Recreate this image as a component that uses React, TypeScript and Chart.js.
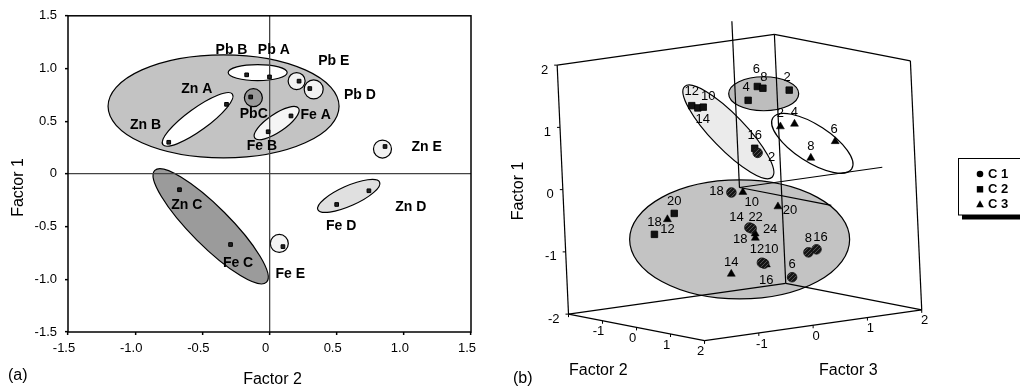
import React, { useEffect, useRef } from "react";
import { Chart, registerables } from "chart.js";

Chart.register(...registerables);

const FONT = "'Liberation Sans', Arial, Helvetica, sans-serif";

// ---------------- Panel (a) data ----------------
const elementNames = ["Pb A", "Pb B", "PbC", "Pb D", "Pb E", "Zn A", "Zn B", "Zn C", "Zn D", "Zn E", "Fe A", "Fe B", "Fe C", "Fe D", "Fe E"];
const factor2Scores = [0.0, -0.17, -0.14, 0.3, 0.22, -0.32, -0.75, -0.67, 0.74, 0.86, 0.16, -0.01, -0.29, 0.5, 0.1];
const factor1Scores = [0.92, 0.94, 0.73, 0.81, 0.88, 0.66, 0.3, -0.15, -0.16, 0.26, 0.55, 0.4, -0.67, -0.29, -0.69];
const labelFactor2 = [0.032, -0.283, -0.117, 0.673, 0.479, -0.541, -0.923, -0.616, 1.051, 1.17, 0.343, -0.057, -0.234, 0.534, 0.154];
const labelFactor1 = [1.176, 1.176, 0.571, 0.75, 1.072, 0.803, 0.467, -0.296, -0.315, 0.252, 0.561, 0.264, -0.848, -0.498, -0.949];

const axisTickValues = [-1.5, -1, -0.5, 0, 0.5, 1, 1.5];
const axisTickLabels = ["-1.5", "-1.0", "-0.5", "0", "0.5", "1.0", "1.5"];

// groups (ellipses) of panel (a): centres in factor units
const groupCentreF2 = [-0.342, -0.088, 0.202, 0.329, -0.12, -0.535, 0.053, 0.841, -0.438, 0.59, 0.073];
const groupCentreF1 = [0.641, 0.961, 0.881, 0.802, 0.723, 0.517, 0.482, 0.236, -0.497, -0.209, -0.66];
// shapes (px) and fills
const groupSemiMajor = [115.5, 29.5, 8.5, 9.5, 9, 43, 26.5, 9, 79, 33.8, 9];
const groupSemiMinor = [51.5, 8, 8.5, 9.5, 9, 11, 9, 9, 19.5, 10, 9];
const groupAngle = [0, 0, 0, 0, 0, -36, -34, 0, 45, -24, 0];
const groupFill = ["#c3c3c3", "#ffffff", "#f2f2f2", "#f2f2f2", "#999999", "#ffffff", "#f5f5f5", "#f2f2f2", "#9b9b9b", "#e0e0e0", "#f4f4f4"];

// ---------------- Panel (b) data ----------------
const c1Ids = ["2", "18", "14", "22", "12", "16", "8", "16", "6"];
const c1F2 = [-0.5, 0.5, 0.5, 0.5, 0.5, 0.5, 0.5, 0.5, 0.5];
const c1F3 = [0.67, -0.46, -0.16, -0.12, 0.04, 0.08, 0.9, 1.05, 0.58];
const c1F1 = [0.42, 0.03, -0.57, -0.59, -1.16, -1.18, -1.1, -1.07, -1.46];

const c2Ids = ["6", "8", "2", "4", "12", "14", "10", "16", "20", "12"];
const c2F2 = [-0.5, -0.5, -0.5, -0.5, -1.5, -1.5, -1.5, -0.5, -1.5, -1.5];
const c2F3 = [0.72, 0.82, 1.3, 0.54, 0.12, 0.23, 0.33, 0.62, -0.29, -0.67];
const c2F1 = [1.48, 1.44, 1.35, 1.28, 1.14, 1.09, 1.09, 0.5, -0.54, -0.83];

const c3Ids = ["2", "4", "6", "8", "10", "20", "24", "18", "10", "14", "18"];
const c3F2 = [0, 0, 0, 0, 0.5, 0.5, 0.5, 0.5, 0.5, 0.5, -1.5];
const c3F3 = [0.8, 1.06, 1.79, 1.33, -0.25, 0.38, -0.06, -0.06, 0.12, -0.53, -0.42];
const c3F1 = [0.88, 0.89, 0.52, 0.31, 0.01, -0.3, -0.68, -0.75, -1.2, -1.27, -0.62];

const cubeTicks = [-2, -1, 0, 1, 2];
const cubeTickLabels = ["-2", "-1", "0", "1", "2"];

// label offsets (px) of the sample numbers
const c1LabelOffsets = [[14, 5], [-15, -1], [-13, -10], [4, -11], [-5, -13], [2, 17], [0, -14], [4, -12], [0, -13]];
const c2LabelOffsets = [[-1, -17], [1, -11], [-2, -13], [-2, -13], [0, -14], [5, 12], [5, -11], [0, -13], [0, -12], [13, -5]];
const c3LabelOffsets = [[0, -13], [0, -12], [-1, -12], [0, -12], [9, 10], [12, 4], [15, -4], [-15, 1], [5, -15], [0, -12], [-13, 3]];

// cluster ellipses of panel (b): centres in factor units
const clusterF2 = [0, -1, 0, -0.5];
const clusterF3 = [-0.04, 0.46, 1.37, 0.83];
const clusterF1 = [-0.83, 0.73, 0.54, 1.35];
const clusterSemiMajor = [110, 63, 47, 35];
const clusterSemiMinor = [59.5, 17, 18.5, 17];
const clusterAngle = [0, 46, 33, 0];
const clusterFill = ["#c3c3c3", "#ebebeb", "#ffffff", "#bdbdbd"];

// oblique projection of the cube (layout)
const PO = { x: 739, y: 187.3 };
const PU = { x: 34.75, y: 6.83 }; // factor 2
const PV = { x: 55.5, y: -7.93 }; // factor 3
const PW = { x: -2.9, y: -64.1 }; // factor 1
function project(f2: number, f3: number, f1: number) {
  return {
    x: PO.x + f2 * PU.x + f3 * PV.x + f1 * PW.x,
    y: PO.y + f2 * PU.y + f3 * PV.y + f1 * PW.y,
  };
}

function drawEllipse(ctx: CanvasRenderingContext2D, x: number, y: number, a: number, b: number, ang: number, fill: string) {
  ctx.beginPath();
  ctx.ellipse(x, y, a, b, (ang * Math.PI) / 180, 0, Math.PI * 2);
  ctx.fillStyle = fill;
  ctx.fill();
  ctx.lineWidth = 1.2;
  ctx.strokeStyle = "#000";
  ctx.stroke();
}

function tickLabel(v: number, values: number[], labels: string[]) {
  const i = values.findIndex((t) => Math.abs(t - v) < 1e-9);
  return i >= 0 ? labels[i] : "";
}

// ---------------- Panel (a) ----------------
function PanelA() {
  const ref = useRef<HTMLCanvasElement>(null);
  useEffect(() => {
    const plugin = {
      id: "panelA",
      beforeDraw(chart: any) {
        const { ctx, scales } = chart;
        ctx.save();
        for (let i = 0; i < groupCentreF2.length; i++) {
          drawEllipse(
            ctx,
            scales.x.getPixelForValue(groupCentreF2[i]),
            scales.y.getPixelForValue(groupCentreF1[i]),
            groupSemiMajor[i],
            groupSemiMinor[i],
            groupAngle[i],
            groupFill[i]
          );
        }
        ctx.restore();
      },
      afterDraw(chart: any) {
        const { ctx, scales, chartArea } = chart;
        ctx.save();
        ctx.strokeStyle = "#000";
        ctx.lineWidth = 1.5;
        ctx.strokeRect(chartArea.left, chartArea.top, chartArea.right - chartArea.left, chartArea.bottom - chartArea.top);
        ctx.fillStyle = "#000";
        ctx.font = `bold 14px ${FONT}`;
        ctx.textAlign = "center";
        ctx.textBaseline = "middle";
        for (let i = 0; i < elementNames.length; i++) {
          ctx.fillText(elementNames[i], scales.x.getPixelForValue(labelFactor2[i]), scales.y.getPixelForValue(labelFactor1[i]));
        }
        ctx.font = `16px ${FONT}`;
        ctx.fillText("Factor 2", 272.5, 380);
        ctx.textAlign = "left";
        ctx.fillText("(a)", 8, 375.5);
        ctx.translate(18.5, 187.5);
        ctx.rotate(-Math.PI / 2);
        ctx.textAlign = "center";
        ctx.fillText("Factor 1", 0, 0);
        ctx.restore();
      },
    };

    const gridColor = (c: any) => (c.tick && Math.abs(c.tick.value) < 1e-9 ? "#444" : "rgba(0,0,0,0)");
    const scaleBase = {
      type: "linear" as const,
      min: -1.5,
      max: 1.5,
      afterBuildTicks: (s: any) => {
        s.ticks = axisTickValues.map((v) => ({ value: v }));
      },
      grid: { color: gridColor, lineWidth: 1.3, tickColor: "#000", tickWidth: 1.5, tickLength: 3, drawTicks: true },
      border: { display: false },
    };

    const chart = new Chart(ref.current!, {
      type: "scatter",
      data: {
        datasets: [
          {
            data: factor2Scores.map((x, i) => ({ x, y: factor1Scores[i] })),
            pointStyle: "rect",
            pointRadius: 2.6,
            backgroundColor: "#222",
            borderColor: "#000",
            borderWidth: 1,
          },
        ],
      },
      options: {
        animation: false,
        responsive: false,
        events: [],
        layout: { padding: { left: 0, right: 29, top: 15, bottom: 0 } },
        plugins: { legend: { display: false }, tooltip: { enabled: false } },
        scales: {
          x: {
            ...scaleBase,
            afterFit: (s: any) => {
              s.height = 56;
            },
            ticks: {
              font: { family: FONT, size: 13 },
              color: "#000",
              padding: 6,
              labelOffset: -4,
              maxRotation: 0,
              autoSkip: false,
              callback: (v: any) => tickLabel(Number(v), axisTickValues, axisTickLabels),
            },
          },
          y: {
            ...scaleBase,
            afterFit: (s: any) => {
              s.width = 68;
            },
            ticks: {
              font: { family: FONT, size: 13 },
              color: "#000",
              padding: 8,
              autoSkip: false,
              callback: (v: any) => tickLabel(Number(v), axisTickValues, axisTickLabels),
            },
          },
        },
      } as any,
      plugins: [plugin],
    });
    return () => chart.destroy();
  }, []);
  return <canvas ref={ref} width={500} height={388} style={{ position: "absolute", left: 0, top: 0, width: 500, height: 388 }} />;
}

// ---------------- Panel (b) ----------------
function makeHatch(): CanvasPattern | string {
  const c = document.createElement("canvas");
  c.width = 4;
  c.height = 4;
  const g = c.getContext("2d");
  if (!g) return "#222";
  g.fillStyle = "#151515";
  g.fillRect(0, 0, 4, 4);
  g.strokeStyle = "#505050";
  g.lineWidth = 1;
  g.beginPath();
  g.moveTo(0, 4);
  g.lineTo(4, 0);
  g.stroke();
  const p = g.createPattern(c, "repeat");
  return p || "#222";
}

function PanelB() {
  const ref = useRef<HTMLCanvasElement>(null);
  useEffect(() => {
    const OFFX = 500;
    const plugin = {
      id: "panelB",
      beforeDatasetsDraw(chart: any) {
        const { ctx, scales } = chart;
        const P = (f2: number, f3: number, f1: number) => {
          const p = project(f2, f3, f1);
          return [scales.x.getPixelForValue(p.x), scales.y.getPixelForValue(p.y)];
        };
        ctx.save();
        for (let i = 0; i < clusterF2.length; i++) {
          const [x, y] = P(clusterF2[i], clusterF3[i], clusterF1[i]);
          drawEllipse(ctx, x, y, clusterSemiMajor[i], clusterSemiMinor[i], clusterAngle[i], clusterFill[i]);
        }
        const seg = (a: number[], b: number[]) => {
          const p = P(a[0], a[1], a[2]);
          const q = P(b[0], b[1], b[2]);
          ctx.beginPath();
          ctx.moveTo(p[0], p[1]);
          ctx.lineTo(q[0], q[1]);
          ctx.stroke();
        };
        ctx.strokeStyle = "#000";
        ctx.lineWidth = 1.2;
        // cube walls
        seg([-2, -2, -2], [-2, -2, 2]);
        seg([-2, -2, 2], [-2, 2, 2]);
        seg([-2, 2, -2], [-2, 2, 2]);
        seg([-2, 2, 2], [2, 2, 2]);
        seg([2, 2, -2], [2, 2, 2]);
        seg([-2, -2, -2], [2, -2, -2]);
        seg([2, -2, -2], [2, 2, -2]);
        seg([-2, -2, -2], [-2, 2, -2]);
        seg([-2, 2, -2], [2, 2, -2]);
        // axes through origin
        seg([0, 0, 0], [0, 0, 2.67]);
        seg([0, 0, 0], [2.7, 0, 0]);
        seg([0, 0, 0], [0, 2.63, 0]);
        // ticks and labels
        ctx.fillStyle = "#000";
        ctx.font = `13px ${FONT}`;
        ctx.textBaseline = "middle";
        ctx.lineWidth = 1;
        for (let i = 0; i < cubeTicks.length; i++) {
          const t = cubeTicks[i];
          const lab = cubeTickLabels[i];
          let [x, y] = P(-2, -2, t);
          ctx.beginPath();
          ctx.moveTo(x, y);
          ctx.lineTo(x - 3, y);
          ctx.stroke();
          ctx.textAlign = "right";
          ctx.fillText(lab, x - 9, y + 5);
          [x, y] = P(t, -2, -2);
          ctx.beginPath();
          ctx.moveTo(x, y);
          ctx.lineTo(x, y + 3);
          ctx.stroke();
          ctx.textAlign = "center";
          if (t > -2) ctx.fillText(lab, x - 4, y + 11);
          [x, y] = P(2, t, -2);
          ctx.beginPath();
          ctx.moveTo(x, y);
          ctx.lineTo(x, y + 3);
          ctx.stroke();
          if (t > -2) ctx.fillText(lab, x + 3, y + 11);
        }
        ctx.restore();
      },
      afterDatasetsDraw(chart: any) {
        const { ctx, scales } = chart;
        ctx.save();
        ctx.fillStyle = "#000";
        ctx.font = `13px ${FONT}`;
        ctx.textAlign = "center";
        ctx.textBaseline = "middle";
        const groups: [string[], number[], number[], number[], number[][]][] = [
          [c1Ids, c1F2, c1F3, c1F1, c1LabelOffsets],
          [c2Ids, c2F2, c2F3, c2F1, c2LabelOffsets],
          [c3Ids, c3F2, c3F3, c3F1, c3LabelOffsets],
        ];
        for (const [ids, f2, f3, f1, off] of groups) {
          for (let i = 0; i < ids.length; i++) {
            const p = project(f2[i], f3[i], f1[i]);
            ctx.fillText(ids[i], scales.x.getPixelForValue(p.x) + off[i][0], scales.y.getPixelForValue(p.y) + off[i][1]);
          }
        }
        ctx.font = `16px ${FONT}`;
        ctx.fillText("Factor 2", 598.3 - OFFX, 370.7);
        ctx.fillText("Factor 3", 848.3 - OFFX, 370.7);
        ctx.textAlign = "left";
        ctx.fillText("(b)", 513 - OFFX, 379);
        ctx.save();
        ctx.translate(519 - OFFX, 191);
        ctx.rotate(-Math.PI / 2);
        ctx.textAlign = "center";
        ctx.fillText("Factor 1", 0, 0);
        ctx.restore();
        // legend box
        const lx = 958.5 - OFFX;
        ctx.fillStyle = "#000";
        ctx.fillRect(962 - OFFX, 215, 70, 4.5);
        ctx.fillStyle = "#fff";
        ctx.fillRect(lx, 158.5, 70, 56.5);
        ctx.strokeStyle = "#000";
        ctx.lineWidth = 1;
        ctx.strokeRect(lx, 158.5, 70, 56.5);
        const names = chart.data.datasets.map((d: any) => d.label);
        const ys = [174, 189.3, 204.3];
        const sx = 980 - OFFX;
        ctx.fillStyle = "#000";
        ctx.beginPath();
        ctx.arc(sx, ys[0], 3.3, 0, Math.PI * 2);
        ctx.fill();
        ctx.fillRect(sx - 3.2, ys[1] - 3.2, 6.4, 6.4);
        ctx.beginPath();
        ctx.moveTo(sx, ys[2] - 4);
        ctx.lineTo(sx + 3.8, ys[2] + 3);
        ctx.lineTo(sx - 3.8, ys[2] + 3);
        ctx.closePath();
        ctx.fill();
        ctx.font = `bold 13px ${FONT}`;
        ctx.textAlign = "left";
        for (let i = 0; i < names.length; i++) ctx.fillText(names[i], 988 - OFFX, ys[i] + 0.5);
        ctx.restore();
      },
    };

    const pts = (f2: number[], f3: number[], f1: number[]) => f2.map((v, i) => project(v, f3[i], f1[i]));

    const chart = new Chart(ref.current!, {
      type: "scatter",
      data: {
        datasets: [
          { label: "C 1", data: pts(c1F2, c1F3, c1F1), pointStyle: "circle", pointRadius: 4.8, backgroundColor: makeHatch() as any, borderColor: "#111", borderWidth: 0.8, clip: false },
          { label: "C 2", data: pts(c2F2, c2F3, c2F1), pointStyle: "rect", pointRadius: 4.6, backgroundColor: "#111", borderColor: "#000", borderWidth: 0.8, clip: false },
          { label: "C 3", data: pts(c3F2, c3F3, c3F1), pointStyle: "triangle", pointRadius: 4.6, backgroundColor: "#000", borderColor: "#000", borderWidth: 0.5, clip: false },
        ],
      },
      options: {
        animation: false,
        responsive: false,
        events: [],
        layout: { padding: 0 },
        plugins: { legend: { display: false }, tooltip: { enabled: false } },
        scales: {
          x: { type: "linear", display: false, min: OFFX, max: OFFX + 520 },
          y: { type: "linear", display: false, min: 0, max: 388, reverse: true },
        },
      } as any,
      plugins: [plugin],
    });
    return () => chart.destroy();
  }, []);
  return <canvas ref={ref} width={520} height={388} style={{ position: "absolute", left: 500, top: 0, width: 520, height: 388 }} />;
}

export default function App() {
  return (
    <div style={{ position: "fixed", left: 0, top: 0, width: 1020, height: 388, background: "#fff", overflow: "hidden" }}>
      <PanelA />
      <PanelB />
    </div>
  );
}
